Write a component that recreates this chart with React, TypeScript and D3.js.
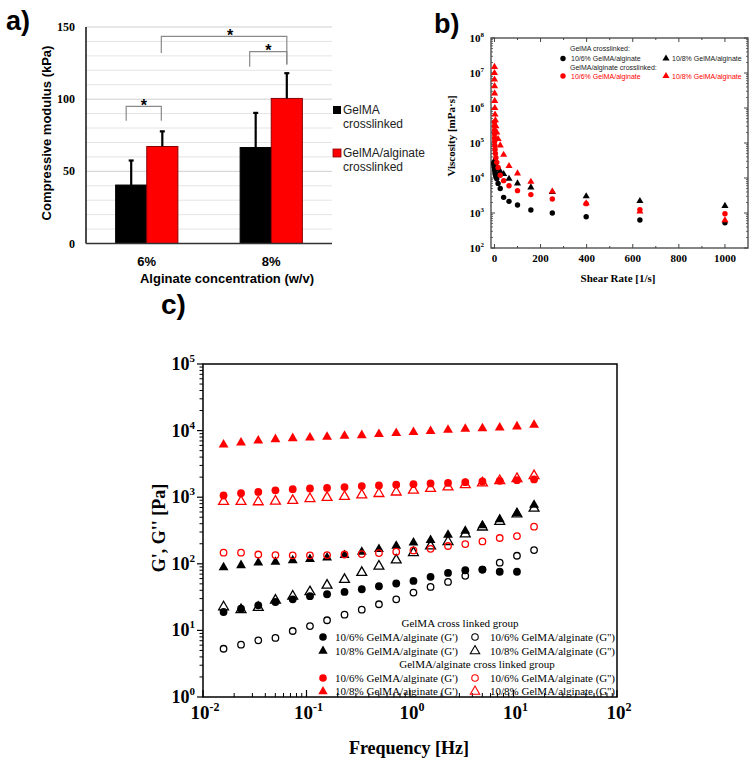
import React from 'react';
import * as d3 from 'd3';

// ---------- Panel a data ----------
const barCategories = ['6%', '8%'];
const barSeries = ['GelMA crosslinked', 'GelMA/alginate crosslinked'];
const gelmaModulus = [40.5, 66.5];
const gelmaModulusErr = [17, 24];
const gelmaAlgModulus = [67.2, 100.5];
const gelmaAlgModulusErr = [10.5, 17.5];
const modulusTicks = [0, 50, 100, 150];

// ---------- Panel b data ----------
const shearRate = [0.1, 0.158, 0.251, 0.398, 0.631, 1, 1.58, 2.51, 3.98, 6.31, 10, 15.8, 25.1, 39.8, 63.1, 100, 158, 251, 398, 631, 1000];
const viscGelma6 = [28000, 26000, 24000, 22000, 20000, 18000, 16000, 14000, 12500, 11000, 9500, 7000, 5000, 2800, 2150, 1700, 1220, 1000, 785, 630, 525];
const viscGelma8 = [32000, 30000, 29000, 28000, 27000, 26000, 25000, 24000, 23000, 21000, 19500, 17500, 15500, 13000, 9500, 7000, 5400, 4000, 3000, 2200, 1600];
const viscAlg6 = [400000, 300000, 230000, 180000, 140000, 110000, 85000, 65000, 50000, 38000, 28000, 20000, 12000, 8400, 6000, 4350, 3350, 2500, 1850, 1250, 950];
const viscAlg8 = [15000000, 10000000, 6500000, 4200000, 2600000, 1600000, 1000000, 650000, 450000, 300000, 200000, 130000, 85000, 46000, 22000, 13500, 7800, 4100, 1900, 1100, 620];
const shearTicks = [0, 200, 400, 600, 800, 1000];
const viscExponents = [2, 3, 4, 5, 6, 7, 8];

// ---------- Panel c data ----------
const frequency = [0.0158, 0.0233, 0.0342, 0.0501, 0.0736, 0.108, 0.158, 0.233, 0.342, 0.501, 0.736, 1.08, 1.58, 2.33, 3.42, 5.01, 7.36, 10.8, 15.8];
const gPrimeGelma6 = [18.9, 21.2, 23.8, 26.7, 29.3, 32.6, 34.9, 37.8, 41.5, 46, 50.6, 55.4, 63.7, 73, 80, 82, 76, 76, null];
const gDoubleGelma6 = [5.3, 6.1, 7.1, 7.7, 9.8, 11.6, 14.2, 17.2, 20.5, 24.7, 29.3, 37, 45, 53.5, 66, 82, 104, 132, 161];
const gPrimeGelma8 = [88, 95, 104, 107, 112, 117, 124, 135, 151, 166, 185, 207, 227, 271, 311, 378, 466, 574, 766];
const gDoubleGelma8 = [22.5, 20.5, 22, 28.3, 32.6, 37.9, 47.6, 58, 74, 92, 114, 146, 185, 215, 280, 355, 430, 560, 680];
const gPrimeAlg6 = [1060, 1150, 1200, 1270, 1320, 1350, 1380, 1420, 1470, 1500, 1540, 1570, 1610, 1640, 1680, 1720, 1760, 1800, 1850];
const gDoubleAlg6 = [147, 147, 138, 135, 134, 134, 135, 138, 140, 145, 152, 159, 168, 185, 198, 217, 244, 261, 361];
const gPrimeAlg8 = [6150, 6600, 7070, 7400, 7660, 7830, 8030, 8310, 8500, 8810, 9120, 9440, 9770, 10230, 10600, 10800, 11100, 11500, 12200];
const gDoubleAlg8 = [860, 860, 850, 870, 890, 950, 990, 1020, 1080, 1130, 1190, 1270, 1350, 1420, 1540, 1630, 1770, 1900, 2100];
const freqExponents = [-2, -1, 0, 1, 2];
const modExponents = [0, 1, 2, 3, 4, 5];

const SERIF = '"Liberation Serif", "Times New Roman", serif';
const SANS = '"Liberation Sans", Arial, sans-serif';
const RED = '#ff0000';

const triPath = (size: number) => d3.symbol(d3.symbolTriangle, size)() as string;

function Marker({ x, y, shape, color, filled, r, tri, sw }: any) {
  if (shape === 'circle') {
    return filled ? (
      <circle cx={x} cy={y} r={r} fill={color} />
    ) : (
      <circle cx={x} cy={y} r={r - sw / 2} fill="none" stroke={color} strokeWidth={sw} />
    );
  }
  return (
    <path
      d={triPath(tri)}
      transform={`translate(${x},${y})`}
      fill={filled ? color : 'none'}
      stroke={filled ? 'none' : color}
      strokeWidth={sw}
    />
  );
}

function PanelA() {
  const x0 = d3.scaleBand().domain(barCategories).range([86, 332]).paddingInner(0.5).paddingOuter(0.238);
  const x1 = d3.scaleBand().domain(barSeries).range([0, x0.bandwidth()]);
  const y = d3.scaleLinear().domain([0, 150]).range([243.5, 27]);
  const grid = d3.range(10, 151, 10);
  const vals = [gelmaModulus, gelmaAlgModulus];
  const errs = [gelmaModulusErr, gelmaAlgModulusErr];
  const fills = ['#000000', RED];
  const strokes = ['#000000', '#8b0000'];
  const cx = (c: string, s: string) => (x0(c) as number) + (x1(s) as number) + x1.bandwidth() / 2;
  const c6a = cx('6%', barSeries[0]);
  const c6b = cx('6%', barSeries[1]);
  const c8a = cx('8%', barSeries[0]);
  const c8b = cx('8%', barSeries[1]);
  const b1l = c6a - 5, b1r = c6b - 1;
  const b2l = c6b - 1, b2r = c8b;
  const b3l = c8a - 6, b3r = c8b;
  return (
    <g>
      <text x={6} y={30} fontFamily={SANS} fontWeight="bold" fontSize={27}>a)</text>
      {grid.map((g) => (
        <line key={g} x1={86} x2={332} y1={y(g)} y2={y(g)} stroke={g % 50 === 0 ? '#cfcfcf' : '#e4e4e4'} strokeWidth={1} />
      ))}
      {barCategories.map((c, ci) =>
        barSeries.map((s, si) => {
          const v = vals[si][ci];
          const e = errs[si][ci];
          const bx = (x0(c) as number) + (x1(s) as number);
          const mid = bx + x1.bandwidth() / 2;
          return (
            <g key={c + s}>
              <rect x={bx} y={y(v)} width={x1.bandwidth()} height={y(0) - y(v)} fill={fills[si]} stroke={strokes[si]} strokeWidth={1} />
              <line x1={mid} x2={mid} y1={y(v)} y2={y(v + e)} stroke="#000" strokeWidth={2.2} />
              <line x1={mid - 2.5} x2={mid + 2.5} y1={y(v + e)} y2={y(v + e)} stroke="#000" strokeWidth={2.2} />
            </g>
          );
        })
      )}
      <line x1={86} x2={86} y1={y(0)} y2={y(150)} stroke="#111" strokeWidth={1.5} />
      <line x1={86} x2={332} y1={y(0)} y2={y(0)} stroke="#333" strokeWidth={1.5} />
      {modulusTicks.map((t) => (
        <text key={t} x={75} y={y(t) + 4} textAnchor="end" fontFamily={SERIF} fontWeight="bold" fontSize={12}>{t}</text>
      ))}
      {barCategories.map((c) => (
        <text key={c} x={(x0(c) as number) + x0.bandwidth() / 2} y={266} textAnchor="middle" fontFamily={SANS} fontWeight="bold" fontSize={13}>{c}</text>
      ))}
      <text x={227} y={283} textAnchor="middle" fontFamily={SANS} fontWeight="bold" fontSize={13}>Alginate concentration (w/v)</text>
      <text transform={`translate(51,133) rotate(-90)`} textAnchor="middle" fontFamily={SANS} fontWeight="bold" fontSize={13}>Compressive modulus (kPa)</text>
      {/* significance brackets */}
      <g stroke="#8a8a8a" strokeWidth={1.2} fill="none">
        <polyline points={`${b1l},${y(85)} ${b1l},${y(95)} ${b1r},${y(95)} ${b1r},${y(85)}`} />
        <polyline points={`${b2l},${y(132)} ${b2l},${y(143.5)} ${b2r},${y(143.5)} ${b2r},${y(124)}`} />
        <polyline points={`${b3l},${y(122.5)} ${b3l},${y(133)} ${b3r},${y(133)} ${b3r},${y(124)}`} />
      </g>
      <text x={(b1l + b1r) / 2} y={y(95) + 4.5} textAnchor="middle" fontFamily={SANS} fontWeight="bold" fontSize={16}>*</text>
      <text x={(b2l + b2r) / 2 + 6} y={y(143.5) + 4.5} textAnchor="middle" fontFamily={SANS} fontWeight="bold" fontSize={16}>*</text>
      <text x={(b3l + b3r) / 2} y={y(133) + 4.5} textAnchor="middle" fontFamily={SANS} fontWeight="bold" fontSize={16}>*</text>
      {/* legend */}
      <rect x={333} y={106} width={8} height={8} fill="#000" />
      <text x={343} y={114} fontFamily={SANS} fontSize={12} fill="#222">GelMA</text>
      <text x={343} y={128} fontFamily={SANS} fontSize={12} fill="#222">crosslinked</text>
      <rect x={333} y={149} width={8} height={8} fill={RED} stroke="#8b0000" strokeWidth={0.8} />
      <text x={343} y={157} fontFamily={SANS} fontSize={12} fill="#222">GelMA/alginate</text>
      <text x={343} y={171} fontFamily={SANS} fontSize={12} fill="#222">crosslinked</text>
    </g>
  );
}

function PanelB() {
  const left = 491, right = 748, top = 38, bottom = 248;
  const x = d3.scaleLinear().domain([-15, 1100]).range([left, right]);
  const y = d3.scaleLog().domain([1e2, 1e8]).range([bottom, top]);
  const series = [
    { data: viscGelma6, shape: 'circle', color: '#000' },
    { data: viscGelma8, shape: 'tri', color: '#000' },
    { data: viscAlg6, shape: 'circle', color: RED },
    { data: viscAlg8, shape: 'tri', color: RED },
  ];
  const minorY: number[] = [];
  viscExponents.slice(0, -1).forEach((e) => {
    for (let k = 2; k <= 9; k++) minorY.push(k * Math.pow(10, e));
  });
  const minorX = [100, 300, 500, 700, 900];
  const frame = '#444';
  return (
    <g>
      <text x={434} y={33} fontFamily={SANS} fontWeight="bold" fontSize={27}>b)</text>
      <rect x={left} y={top} width={right - left} height={bottom - top} fill="none" stroke={frame} strokeWidth={1.3} />
      {viscExponents.map((e) => (
        <g key={e}>
          <line x1={left} x2={left + 4} y1={y(10 ** e)} y2={y(10 ** e)} stroke={frame} />
          <line x1={right} x2={right - 4} y1={y(10 ** e)} y2={y(10 ** e)} stroke={frame} />
          <text x={484} y={y(10 ** e) + 4} textAnchor="end" fontFamily={SERIF} fontWeight="bold" fontSize={11}>
            10<tspan dy={-5} fontSize={7}>{e}</tspan>
          </text>
        </g>
      ))}
      {minorY.map((v, i) => (
        <g key={i}>
          <line x1={left} x2={left + 2} y1={y(v)} y2={y(v)} stroke={frame} strokeWidth={0.8} />
          <line x1={right} x2={right - 2} y1={y(v)} y2={y(v)} stroke={frame} strokeWidth={0.8} />
        </g>
      ))}
      {shearTicks.map((t) => (
        <g key={t}>
          <line x1={x(t)} x2={x(t)} y1={bottom} y2={bottom - 4} stroke={frame} />
          <line x1={x(t)} x2={x(t)} y1={top} y2={top + 4} stroke={frame} />
          <text x={x(t)} y={bottom + 14} textAnchor="middle" fontFamily={SERIF} fontWeight="bold" fontSize={11}>{t}</text>
        </g>
      ))}
      {minorX.map((t) => (
        <g key={t}>
          <line x1={x(t)} x2={x(t)} y1={bottom} y2={bottom - 2} stroke={frame} />
          <line x1={x(t)} x2={x(t)} y1={top} y2={top + 2} stroke={frame} />
        </g>
      ))}
      {series.map((s, si) =>
        s.data.map((v, i) => (
          <Marker key={si + '-' + i} x={x(shearRate[i])} y={y(v)} shape={s.shape} color={s.color} filled r={2.7} tri={22} sw={1} />
        ))
      )}
      <text x={618} y={282} textAnchor="middle" fontFamily={SERIF} fontWeight="bold" fontSize={11}>Shear Rate [1/s]</text>
      <text transform={`translate(455,136) rotate(-90)`} textAnchor="middle" fontFamily={SERIF} fontWeight="bold" fontSize={11}>Viscosity [mPa·s]</text>
      {/* legend */}
      <g fontFamily={SANS} fontSize={7}>
        <text x={570} y={51} fill="#222">GelMA crosslinked:</text>
        <Marker x={563} y={58.5} shape="circle" color="#000" filled r={2.7} tri={22} sw={1} />
        <text x={571} y={61} fill="#222">10/6% GelMA/alginate</text>
        <Marker x={666} y={58.5} shape="tri" color="#000" filled r={2.7} tri={22} sw={1} />
        <text x={672} y={61} fill="#222">10/8% GelMA/alginate</text>
        <text x={570} y={69.5} fill="#222">GelMA/alginate crosslinked:</text>
        <Marker x={563} y={76} shape="circle" color={RED} filled r={2.7} tri={22} sw={1} />
        <text x={571} y={78.5} fill={RED}>10/6% GelMA/alginate</text>
        <Marker x={666} y={76} shape="tri" color={RED} filled r={2.7} tri={22} sw={1} />
        <text x={672} y={78.5} fill={RED}>10/8% GelMA/alginate</text>
      </g>
    </g>
  );
}

function PanelC() {
  const left = 203, right = 617, top = 364, bottom = 697;
  const x = d3.scaleLog().domain([1e-2, 1e2]).range([left, right]);
  const y = d3.scaleLog().domain([1e0, 1e5]).range([bottom, top]);
  const series = [
    { data: gDoubleGelma6, shape: 'circle', color: '#000', filled: false },
    { data: gPrimeGelma6, shape: 'circle', color: '#000', filled: true },
    { data: gDoubleGelma8, shape: 'tri', color: '#000', filled: false },
    { data: gPrimeGelma8, shape: 'tri', color: '#000', filled: true },
    { data: gDoubleAlg6, shape: 'circle', color: RED, filled: false },
    { data: gDoubleAlg8, shape: 'tri', color: RED, filled: false },
    { data: gPrimeAlg6, shape: 'circle', color: RED, filled: true },
    { data: gPrimeAlg8, shape: 'tri', color: RED, filled: true },
  ];
  const minorX: number[] = [];
  freqExponents.slice(0, -1).forEach((e) => {
    for (let k = 2; k <= 9; k++) minorX.push(k * Math.pow(10, e));
  });
  const minorY: number[] = [];
  modExponents.slice(0, -1).forEach((e) => {
    for (let k = 2; k <= 9; k++) minorY.push(k * Math.pow(10, e));
  });
  const mk = { r: 3.9, tri: 42, sw: 1.3 };
  const legendRows = [
    { y: 637, items: [
      { shape: 'circle', color: '#000', filled: true, label: "10/6% GelMA/alginate  (G')" },
      { shape: 'circle', color: '#000', filled: false, label: "10/6% GelMA/alginate (G'')" },
    ] },
    { y: 651, items: [
      { shape: 'tri', color: '#000', filled: true, label: "10/8% GelMA/alginate  (G')" },
      { shape: 'tri', color: '#000', filled: false, label: "10/8% GelMA/alginate (G'')" },
    ] },
    { y: 678, items: [
      { shape: 'circle', color: RED, filled: true, label: "10/6% GelMA/alginate (G')" },
      { shape: 'circle', color: RED, filled: false, label: "10/6% GelMA/alginate (G'')" },
    ] },
    { y: 691.5, items: [
      { shape: 'tri', color: RED, filled: true, label: "10/8% GelMA/alginate (G')" },
      { shape: 'tri', color: RED, filled: false, label: "10/8% GelMA/alginate (G'')" },
    ] },
  ];
  return (
    <g>
      <text x={161} y={314} fontFamily={SANS} fontWeight="bold" fontSize={28}>c)</text>
      {series.map((s, si) =>
        s.data.map((v, i) =>
          v == null ? null : (
            <Marker key={si + '-' + i} x={x(frequency[i])} y={y(v)} shape={s.shape} color={s.color} filled={s.filled} r={mk.r} tri={mk.tri} sw={mk.sw} />
          )
        )
      )}
      <rect x={left} y={top} width={right - left} height={bottom - top} fill="none" stroke="#000" strokeWidth={1.5} />
      {modExponents.map((e) => (
        <g key={e}>
          <line x1={left} x2={left - 6} y1={y(10 ** e)} y2={y(10 ** e)} stroke="#000" strokeWidth={1.2} />
          <text x={195} y={y(10 ** e) + 6} textAnchor="end" fontFamily={SERIF} fontWeight="bold" fontSize={18}>
            10<tspan dy={-8} fontSize={11}>{e}</tspan>
          </text>
        </g>
      ))}
      {minorY.map((v, i) => (
        <line key={i} x1={left} x2={left - 3.5} y1={y(v)} y2={y(v)} stroke="#000" strokeWidth={1} />
      ))}
      {freqExponents.map((e) => (
        <g key={e}>
          <line x1={x(10 ** e)} x2={x(10 ** e)} y1={bottom} y2={bottom - 7} stroke="#000" strokeWidth={1.2} />
          <text x={x(10 ** e) + 2} y={719} textAnchor="middle" fontFamily={SERIF} fontWeight="bold" fontSize={19}>
            10<tspan dy={-8} fontSize={12}>{e}</tspan>
          </text>
        </g>
      ))}
      {minorX.map((v, i) => (
        <line key={i} x1={x(v)} x2={x(v)} y1={bottom} y2={bottom - 4} stroke="#000" strokeWidth={1} />
      ))}
      <text x={409} y={754} textAnchor="middle" fontFamily={SERIF} fontWeight="bold" fontSize={18}>Frequency [Hz]</text>
      <text transform={`translate(165,528) rotate(-90)`} textAnchor="middle" fontFamily={SERIF} fontWeight="bold" fontSize={18}>G', G'' [Pa]</text>
      {/* legend */}
      <g fontFamily={SERIF} fontSize={11} style={{ whiteSpace: 'pre' }}>
        <text x={460} y={627} textAnchor="middle">GelMA cross linked group</text>
        <text x={477} y={668} textAnchor="middle">GelMA/alginate cross linked group</text>
        {legendRows.map((row, ri) =>
          row.items.map((it, ii) => (
            <g key={ri + '-' + ii}>
              <Marker x={ii === 0 ? 323 : 475} y={row.y} shape={it.shape} color={it.color} filled={it.filled} r={3.8} tri={38} sw={1.1} />
              <text x={ii === 0 ? 335 : 490} y={row.y + 3.8}>{it.label}</text>
            </g>
          ))
        )}
      </g>
    </g>
  );
}

export default function App() {
  return (
    <svg width={754} height={762} style={{ position: 'absolute', left: 0, top: 0, background: '#fff' }}>
      <rect width={754} height={762} fill="#fff" />
      <PanelA />
      <PanelB />
      <PanelC />
    </svg>
  );
}
